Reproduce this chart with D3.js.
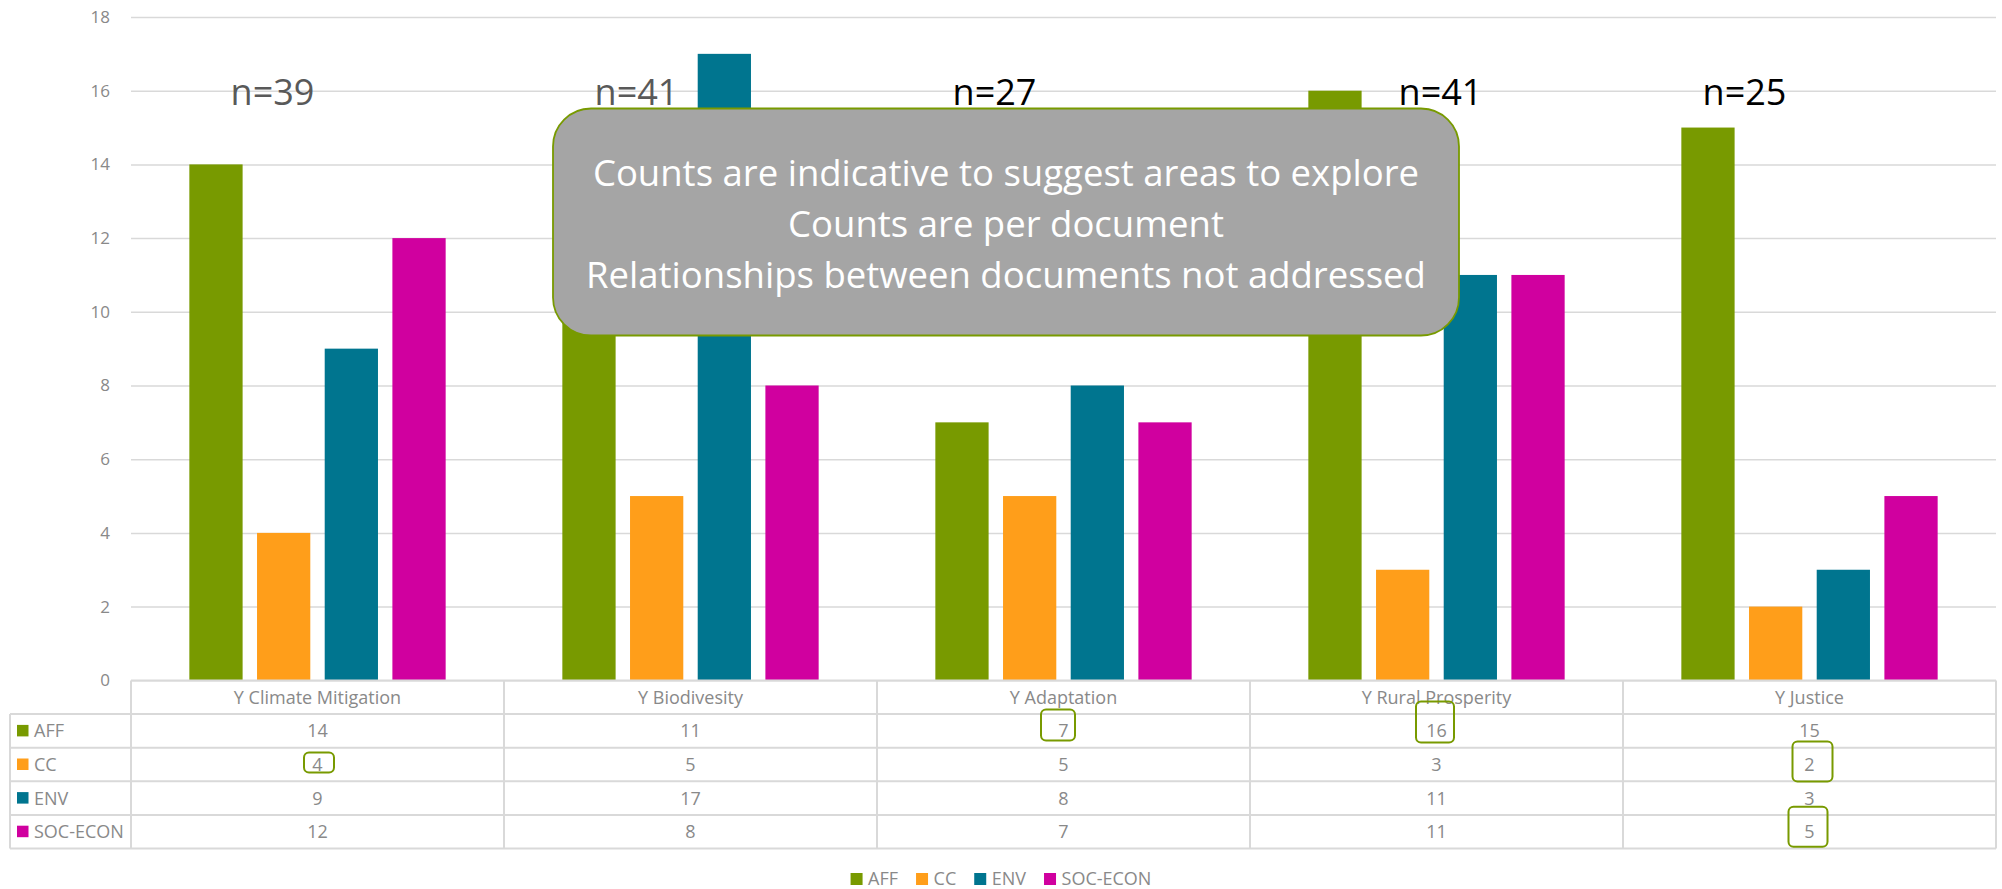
<!DOCTYPE html>
<html>
<head>
<meta charset="utf-8">
<script src="https://cdn.jsdelivr.net/npm/d3@7"></script>
<style>
  body { margin: 0; background: #fff; }
  text { font-family: "Open Sans", "Noto Sans", sans-serif; }
</style>
</head>
<body>
<div id="chart"></div>
<script>
// categories + series
let categories = ["Y Climate Mitigation", "Y Biodivesity", "Y Adaptation", "Y Rural Prosperity", "Y Justice"];
let seriesNames = ["AFF", "CC", "ENV", "SOC-ECON"];
let seriesColors = ["#789a00", "#ff9e1a", "#00758f", "#d0009f"];

let affValues = [14, 11, 7, 16, 15];
let ccValues = [4, 5, 5, 3, 2];
let envValues = [9, 17, 8, 11, 3];
let socValues = [12, 8, 7, 11, 5];
let allValues = [affValues, ccValues, envValues, socValues];

let yTicks = [0, 2, 4, 6, 8, 10, 12, 14, 16, 18];

// n= labels above each group (shifted a bit like the text boxes in the original)
let nLabels = ["n=39", "n=41", "n=27", "n=41", "n=25"];
let nShift = [-45, -54, -69, 4, -65];
let nColors = ["#595959", "#595959", "#000", "#000", "#000"];

let noteLines = [
  "Counts are indicative to suggest areas to explore",
  "Counts are per document",
  "Relationships between documents not addressed"
];

// cells ringed in green in the data table: [series, category, dx, dy, w, h]
let ringed = [
  ["CC", "Y Climate Mitigation", 1.5, -2, 30, 20],
  ["AFF", "Y Adaptation", -5.5, -6, 34, 31],
  ["AFF", "Y Rural Prosperity", -1.5, -9, 38, 41],
  ["CC", "Y Justice", 3, -3, 40, 40],
  ["SOC-ECON", "Y Justice", -1.5, -5, 39, 40]
];

let width = 2002, height = 889;
let plotLeft = 131, plotRight = 1996;
let tableLeft = 10;
let grey = "#898989", lineGrey = "#d9d9d9";

let svg = d3.select("#chart")
  .append("svg")
  .attr("width", width)
  .attr("height", height);

let x0 = d3.scaleBand()
  .domain(categories)
  .range([plotLeft, plotRight]);

let x1 = d3.scaleBand()
  .domain(seriesNames)
  .range([0, x0.bandwidth()])
  .paddingInner(0.213)
  .paddingOuter(0.862);

let y = d3.scaleLinear()
  .domain([0, 18])
  .range([680.3, 17]);

let color = d3.scaleOrdinal()
  .domain(seriesNames)
  .range(seriesColors);

//gridlines
let grid = svg.append("g")
  .attr("transform", "translate(" + plotLeft + ",0)")
  .call(d3.axisLeft(y).tickValues(yTicks).tickSize(-(plotRight - plotLeft)).tickFormat(""));
grid.select(".domain").remove();
grid.selectAll("line").attr("stroke", lineGrey).attr("stroke-width", 1.5);

//tick labels
let yAxis = svg.append("g")
  .attr("transform", "translate(" + plotLeft + ",0)")
  .call(d3.axisLeft(y).tickValues(yTicks).tickSize(0).tickPadding(21));
yAxis.select(".domain").remove();
yAxis.selectAll("text")
  .attr("fill", grey)
  .style("font-size", "17px")
  .style("font-family", "'Open Sans', sans-serif");

//bars
let groups = svg.append("g")
  .selectAll("g")
  .data(categories)
  .enter()
  .append("g")
  .attr("transform", function(d) { return "translate(" + x0(d) + ",0)"; });

groups.selectAll("rect")
  .data(function(d, i) {
    return seriesNames.map(function(s, j) { return { series: s, value: allValues[j][i] }; });
  })
  .enter()
  .append("rect")
  .attr("x", function(d) { return x1(d.series); })
  .attr("y", function(d) { return y(d.value); })
  .attr("width", x1.bandwidth())
  .attr("height", function(d) { return y(0) - y(d.value); })
  .attr("fill", function(d) { return color(d.series); });

//data table under the plot
let rowBand = d3.scaleBand()
  .domain(["header"].concat(seriesNames))
  .range([680.5, 848.5]);

let table = svg.append("g");

// horizontal rules
table.selectAll(".hline")
  .data(rowBand.domain().concat(["end"]))
  .enter()
  .append("line")
  .attr("x1", function(d) { return d == "header" ? plotLeft : tableLeft; })
  .attr("x2", plotRight)
  .attr("y1", function(d) { return d == "end" ? rowBand.range()[1] : rowBand(d); })
  .attr("y2", function(d) { return d == "end" ? rowBand.range()[1] : rowBand(d); })
  .attr("stroke", lineGrey)
  .attr("stroke-width", 2);

// vertical rules
table.selectAll(".vline")
  .data(categories.map(function(c) { return x0(c); }).concat([plotRight]))
  .enter()
  .append("line")
  .attr("x1", function(d) { return d; })
  .attr("x2", function(d) { return d; })
  .attr("y1", rowBand("header"))
  .attr("y2", rowBand.range()[1])
  .attr("stroke", lineGrey)
  .attr("stroke-width", 2);

table.append("line")
  .attr("x1", tableLeft).attr("x2", tableLeft)
  .attr("y1", rowBand("AFF")).attr("y2", rowBand.range()[1])
  .attr("stroke", lineGrey)
  .attr("stroke-width", 2);

// header texts
table.selectAll(".head")
  .data(categories)
  .enter()
  .append("text")
  .attr("x", function(d) { return x0(d) + x0.bandwidth() / 2; })
  .attr("y", rowBand("header") + rowBand.bandwidth() / 2)
  .attr("dy", "0.36em")
  .attr("text-anchor", "middle")
  .attr("fill", grey)
  .style("font-size", "18px")
  .text(function(d) { return d; });

// row labels with colour keys
let rowLabels = table.selectAll(".rowlab")
  .data(seriesNames)
  .enter()
  .append("g");

rowLabels.append("rect")
  .attr("x", 17)
  .attr("y", function(d) { return rowBand(d) + rowBand.bandwidth() / 2 - 6; })
  .attr("width", 11.5)
  .attr("height", 11.5)
  .attr("fill", function(d) { return color(d); });

rowLabels.append("text")
  .attr("x", 34)
  .attr("y", function(d) { return rowBand(d) + rowBand.bandwidth() / 2; })
  .attr("dy", "0.36em")
  .attr("fill", grey)
  .style("font-size", "18px")
  .text(function(d) { return d; });

// values
seriesNames.forEach(function(s, j) {
  table.selectAll(".val" + j)
    .data(allValues[j])
    .enter()
    .append("text")
    .attr("x", function(d, i) { return x0(categories[i]) + x0.bandwidth() / 2; })
    .attr("y", rowBand(s) + rowBand.bandwidth() / 2)
    .attr("dy", "0.36em")
    .attr("text-anchor", "middle")
    .attr("fill", grey)
    .style("font-size", "18px")
    .text(function(d) { return d; });
});

// green rings round some cells
table.selectAll(".ring")
  .data(ringed)
  .enter()
  .append("rect")
  .attr("x", function(d) { return x0(d[1]) + x0.bandwidth() / 2 + d[2] - d[4] / 2; })
  .attr("y", function(d) { return rowBand(d[0]) + rowBand.bandwidth() / 2 + d[3] - d[5] / 2; })
  .attr("width", function(d) { return d[4]; })
  .attr("height", function(d) { return d[5]; })
  .attr("rx", 5)
  .attr("fill", "none")
  .attr("stroke", "#789a00")
  .attr("stroke-width", 2);

//n= labels
svg.selectAll(".nlab")
  .data(nLabels)
  .enter()
  .append("text")
  .attr("x", function(d, i) { return x0(categories[i]) + x0.bandwidth() / 2 + nShift[i]; })
  .attr("y", 105)
  .attr("text-anchor", "middle")
  .attr("fill", function(d, i) { return nColors[i]; })
  .style("font-size", "36px")
  .text(function(d) { return d; });

//callout box
let note = svg.append("g");
note.append("rect")
  .attr("x", 553)
  .attr("y", 108.5)
  .attr("width", 906)
  .attr("height", 227)
  .attr("rx", 38)
  .attr("fill", "#a5a5a5")
  .attr("stroke", "#789a00")
  .attr("stroke-width", 1.8);

note.selectAll("text")
  .data(noteLines)
  .enter()
  .append("text")
  .attr("x", 1006)
  .attr("y", function(d, i) { return 186 + i * 51; })
  .attr("text-anchor", "middle")
  .attr("fill", "#fff")
  .style("font-size", "36.5px")
  .text(function(d) { return d; });

//legend at the bottom, centred on the page
let legend = svg.append("g");
let items = legend.selectAll("g")
  .data(seriesNames)
  .enter()
  .append("g");

items.append("rect")
  .attr("width", 12)
  .attr("height", 12)
  .attr("y", 873)
  .attr("fill", function(d) { return color(d); });

items.append("text")
  .attr("x", 17.5)
  .attr("y", 885)
  .attr("fill", grey)
  .style("font-size", "18px")
  .text(function(d) { return d; });

let offsets = [];
let total = 0;
items.each(function(d, i) {
  let w = 17.5 + d3.select(this).select("text").node().getComputedTextLength();
  offsets.push(total);
  total += w + (i < seriesNames.length - 1 ? 18 : 0);
});
let legendStart = width / 2 - total / 2;
items.attr("transform", function(d, i) { return "translate(" + (legendStart + offsets[i]) + ",0)"; });
</script>
</body>
</html>
